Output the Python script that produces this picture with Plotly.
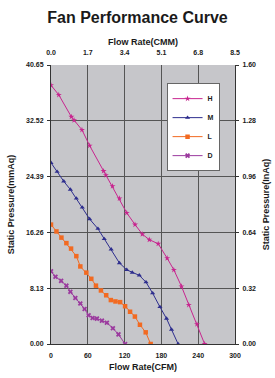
import plotly.graph_objects as go

# Data (flow in CFM, static pressure in mmAq)
h_cfm = [0, 12.7, 33.2, 37.6, 50.5, 63, 85.7, 89.5, 100.3, 111.6, 123.5, 137, 148.9, 160.3, 174.8, 189.4, 200.3, 212.7, 224.6, 238, 250.5]
h_p = [37.7, 36.3, 33.1, 32.6, 31.2, 28.9, 25.2, 24.6, 23.0, 21.2, 19.1, 17.4, 16.0, 15.2, 14.6, 12.5, 10.8, 8.4, 5.7, 2.9, 0]

m_cfm = [0, 10, 20.8, 31.6, 41.3, 51, 63, 76.5, 86.8, 98.1, 111.6, 123.5, 132.5, 144, 154.9, 165.7, 177.6, 188.4, 196.5, 207.3]
m_p = [26.4, 25.1, 23.7, 22.5, 21.2, 19.9, 18.2, 16.8, 15.3, 13.8, 11.8, 10.8, 10.4, 10.0, 9.0, 7.4, 5.4, 3.7, 2.1, 0]

l_cfm = [0, 8.9, 17, 25.1, 32.7, 41.3, 47.8, 57.6, 65.7, 73.3, 81.4, 90, 97.6, 105.1, 112.7, 120.8, 128.9, 136.8, 145, 154.4, 162.5]
l_p = [17.4, 16.4, 15.5, 14.7, 13.9, 12.8, 11.3, 10.4, 9.5, 8.5, 7.8, 7.1, 6.4, 6.2, 6.1, 5.5, 4.7, 4.0, 2.8, 1.7, 0]

d_cfm = [0, 7.3, 16.5, 25.1, 31.6, 39.7, 47.8, 54.8, 61.3, 67.8, 74.9, 83, 91.1, 100.9, 110, 120.8]
d_p = [10.6, 9.8, 9.2, 8.5, 7.6, 6.7, 5.9, 5.1, 4.2, 3.8, 3.7, 3.4, 3.1, 2.3, 1.4, 0]

cfm_ticks = [0, 60, 120, 180, 240, 300]
cmm_ticks = [0, 1.7, 3.4, 5.1, 6.8, 8.5]
mmaq_ticks = [0, 8.13, 16.26, 24.39, 32.52, 40.65]
inaq_ticks = [0, 0.32, 0.64, 0.96, 1.28, 1.60]

series = [
    ("H", h_cfm, h_p, "#C8258F", "star"),
    ("M", m_cfm, m_p, "#2E2E8E", "triangle-up"),
    ("L", l_cfm, l_p, "#F26A21", "square"),
    ("D", d_cfm, d_p, "#9B3A9E", "x"),
]

fig = go.Figure()
for name, x, y, col, sym in series:
    fig.add_trace(go.Scatter(
        x=x, y=y, name="<b>%s</b>" % name, mode="lines+markers",
        line=dict(color=col, width=1),
        marker=dict(color=col, symbol=sym, size=4.5, line=dict(width=0)),
    ))

# invisible trace to anchor secondary axes
fig.add_trace(go.Scatter(x=[0], y=[0], xaxis="x2", yaxis="y2", mode="markers",
                         marker=dict(opacity=0), showlegend=False, hoverinfo="skip"))

FONT = "Liberation Sans, Arial"
tickfont = dict(family=FONT, size=7, color="#1a1a1a")
titlefont = dict(family=FONT, size=9, color="#1a1a1a")

def bold(vals, fmt):
    return ["<b>" + (fmt % v) + "</b>" for v in vals]

fig.update_layout(
    width=275, height=378,
    margin=dict(l=50.5, r=39.5, t=65, b=34, autoexpand=False),
    paper_bgcolor="white", plot_bgcolor="#C6C6CA",
    title=dict(text="<b>Fan Performance Curve</b>", x=0.5, xanchor="center", y=1 - 17 / 378, yanchor="middle",
               font=dict(family=FONT, size=16, color="#1a1a1a")),
    xaxis=dict(range=[0, 300], tickvals=cfm_ticks, ticktext=bold(cfm_ticks, "%d"),
               showgrid=True, gridcolor="#555", gridwidth=1, zeroline=False,
               showline=True, linecolor="#333", linewidth=1, automargin=False,
               ticks="", tickfont=tickfont, ticklabelstandoff=5,
               title=dict(text="<b>Flow Rate(CFM)</b>", font=titlefont, standoff=5)),
    xaxis2=dict(range=[0, 8.5], tickvals=cmm_ticks, ticktext=bold(cmm_ticks, "%.1f"),
                overlaying="x", side="top", showgrid=False, zeroline=False, automargin=False,
                showline=False, ticks="", tickfont=tickfont, ticklabelstandoff=8,
                title=dict(text="<b>Flow Rate(CMM)</b>", font=titlefont, standoff=1)),
    yaxis=dict(range=[0, 40.65], tickvals=mmaq_ticks, ticktext=bold(mmaq_ticks, "%.2f"),
               showgrid=True, gridcolor="#555", gridwidth=1, zeroline=False,
               showline=True, linecolor="#333", linewidth=1, automargin=False,
               ticks="outside", ticklen=3, tickcolor="#333", tickfont=tickfont,
               ticklabelstandoff=2,
               title=dict(text="<b>Static Pressure(mmAq)</b>", font=titlefont, standoff=9)),
    yaxis2=dict(range=[0, 1.6], tickvals=inaq_ticks, ticktext=bold(inaq_ticks, "%.2f"),
                overlaying="y", side="right", showgrid=False, zeroline=False,
                showline=True, linecolor="#333", linewidth=1, automargin=False,
                ticks="outside", ticklen=3, tickcolor="#333", tickfont=tickfont,
                ticklabelstandoff=2,
                title=dict(text="<b>Static Pressure(InAq)</b>", font=titlefont, standoff=7)),
    legend=dict(x=0.628, y=0.935, xanchor="left", yanchor="top",
                bgcolor="white", bordercolor="#666", borderwidth=1,
                font=dict(family=FONT, size=7, color="#1a1a1a"),
                itemwidth=30, tracegroupgap=0),
    showlegend=True,
)

fig.write_html("out.html")
